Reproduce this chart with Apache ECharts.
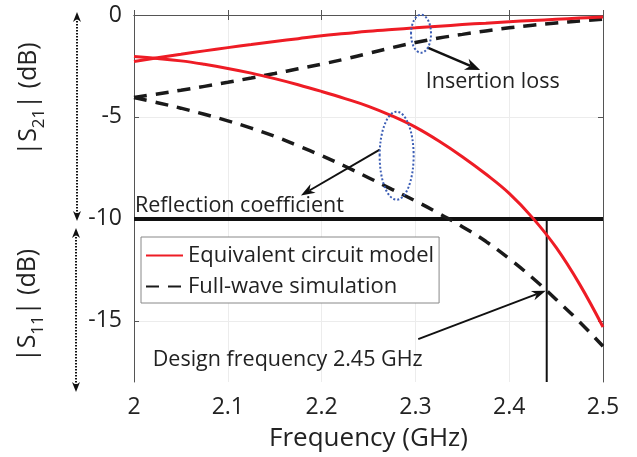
<!DOCTYPE html>
<html><head><meta charset="utf-8">
<script src="https://cdn.jsdelivr.net/npm/echarts@6/dist/echarts.min.js"></script>
<style>html,body{margin:0;padding:0;background:#fff}#c{width:637px;height:457px}</style>
</head><body><div id="c"></div>
<script>
// ---- data ----
const freq = [2.0, 2.025, 2.05, 2.075, 2.1, 2.125, 2.15, 2.175, 2.2, 2.225, 2.25,
              2.275, 2.3, 2.325, 2.35, 2.375, 2.4, 2.425, 2.45, 2.475, 2.5];
const s21Circuit  = [-2.28, -2.10, -1.93, -1.76, -1.60, -1.45, -1.30, -1.16, -1.02, -0.91, -0.80,
                     -0.71, -0.63, -0.55, -0.47, -0.40, -0.33, -0.27, -0.21, -0.15, -0.10];
const s21FullWave = [-4.05, -3.87, -3.69, -3.50, -3.30, -3.09, -2.87, -2.64, -2.41, -2.16, -1.88,
                     -1.60, -1.35, -1.13, -0.95, -0.78, -0.63, -0.50, -0.39, -0.29, -0.20];
const s11Circuit  = [-2.03, -2.13, -2.25, -2.42, -2.62, -2.85, -3.12, -3.42, -3.75, -4.10, -4.48,
                     -4.95, -5.50, -6.18, -6.95, -7.80, -8.75, -9.95, -11.40, -13.20, -15.30];
const s11FullWave = [-4.05, -4.30, -4.57, -4.87, -5.19, -5.55, -5.95, -6.42, -6.90, -7.42, -7.98,
                     -8.55, -9.12, -9.73, -10.38, -11.10, -11.95, -12.90, -13.95, -15.05, -16.25];
const xTicks = [2, 2.1, 2.2, 2.3, 2.4, 2.5];
const yTicks = [0, -5, -10, -15];
const refLevel = -10;
const designFreq = 2.44;
const yMin = -18, yMax = 0;
const legendNames = ['Equivalent circuit model', 'Full-wave simulation'];

const FONT = "'Open Sans', sans-serif";
const chart = echarts.init(document.getElementById('c'), null, {renderer: 'canvas'});
const pts = arr => freq.map((f, i) => [f, arr[i]]);
const RED = '#ee1c25', BLK = '#1a1a1a';

const xBase = {type: 'value', min: 2, max: 2.5};
const yBase = {type: 'value', min: yMin, max: yMax};

chart.setOption({
  animation: false,
  backgroundColor: '#fff',
  textStyle: {fontFamily: FONT},
  grid: {left: 134, top: 15, right: 34, bottom: 72, containLabel: false},
  xAxis: [
    Object.assign({}, xBase, {
      position: 'bottom',
      name: 'Frequency (GHz)', nameLocation: 'middle', nameGap: 44,
      nameTextStyle: {fontSize: 26, color: '#222', fontFamily: FONT},
      axisLine: {show: true, lineStyle: {color: '#555', width: 1}},
      axisTick: {show: true, inside: true, length: 5, lineStyle: {color: '#555'}, customValues: xTicks},
      axisLabel: {fontSize: 23, color: '#222', margin: 14, fontFamily: FONT, customValues: xTicks,
        formatter: v => String(Math.round(v * 10) / 10)},
      splitLine: {show: true, lineStyle: {color: '#ececec', width: 1}}
    }),
    Object.assign({}, xBase, {
      position: 'top',
      axisLine: {show: true, lineStyle: {color: '#555', width: 1}},
      axisTick: {show: true, inside: true, length: 5, lineStyle: {color: '#555'}, customValues: xTicks},
      axisLabel: {show: false}, splitLine: {show: false}
    })
  ],
  yAxis: [
    Object.assign({}, yBase, {
      position: 'left',
      axisLine: {show: true, lineStyle: {color: '#555', width: 1}},
      axisTick: {show: true, inside: true, length: 5, lineStyle: {color: '#555'}, customValues: yTicks},
      axisLabel: {fontSize: 23, color: '#222', margin: 12, fontFamily: FONT, customValues: yTicks},
      splitLine: {show: true, lineStyle: {color: '#ececec', width: 1}}
    }),
    Object.assign({}, yBase, {
      position: 'right',
      axisLine: {show: true, lineStyle: {color: '#555', width: 1}},
      axisTick: {show: true, inside: true, length: 5, lineStyle: {color: '#555'}, customValues: yTicks},
      axisLabel: {show: false}, splitLine: {show: false}
    })
  ],
  legend: {
    data: legendNames,
    orient: 'vertical', left: 141, top: 237,
    padding: [6, 5, 4, 4], itemGap: 6, itemWidth: 37, itemHeight: 14,
    backgroundColor: '#fff', borderColor: '#888', borderWidth: 1, borderRadius: 0,
    itemStyle: {opacity: 0, borderWidth: 0},
    textStyle: {fontSize: 22, color: '#222', fontFamily: FONT, lineHeight: 25},
    selectedMode: false
  },
  series: [
    {name: 'ref', type: 'line', data: [[2, refLevel], [2.5, refLevel]], symbol: 'none',
     lineStyle: {color: '#111', width: 4}, z: 1, silent: true},
    {name: 'design', type: 'line', data: [[designFreq, refLevel], [designFreq, yMin]], symbol: 'none',
     lineStyle: {color: '#111', width: 2}, z: 1, silent: true},
    {name: legendNames[0], type: 'line', data: pts(s21Circuit), smooth: 0.4, symbol: 'none',
     itemStyle: {color: RED}, lineStyle: {color: RED, width: 3}, z: 3},
    {name: legendNames[0], type: 'line', data: pts(s11Circuit), smooth: 0.4, symbol: 'none',
     itemStyle: {color: RED}, lineStyle: {color: RED, width: 3}, z: 3},
    {name: legendNames[1], type: 'line', data: pts(s21FullWave), smooth: 0.4, symbol: 'none',
     itemStyle: {color: BLK}, lineStyle: {color: BLK, width: 3.5, type: [13, 9]}, z: 2},
    {name: legendNames[1], type: 'line', data: pts(s11FullWave), smooth: 0.4, symbol: 'none',
     itemStyle: {color: BLK}, lineStyle: {color: BLK, width: 3.5, type: [13, 9]}, z: 2}
  ]
});

// ---- annotations (anchored in data coordinates) ----
const P = p => chart.convertToPixel({xAxisIndex: 0, yAxisIndex: 0}, p);
function arrow(a, b, head, half, w) {
  head = head || 13; half = half || 5; w = w || 2;
  const dx = b[0] - a[0], dy = b[1] - a[1], L = Math.hypot(dx, dy), ux = dx / L, uy = dy / L;
  const base = [b[0] - ux * head, b[1] - uy * head], nx = -uy, ny = ux;
  const notch = [b[0] - ux * head * 0.7, b[1] - uy * head * 0.7];
  return [
    {type: 'line', shape: {x1: a[0], y1: a[1], x2: notch[0], y2: notch[1]}, style: {stroke: '#111', lineWidth: w}, z: 20},
    {type: 'polygon', shape: {points: [b, [base[0] + nx * half, base[1] + ny * half], notch, [base[0] - nx * half, base[1] - ny * half]]},
     style: {fill: '#111'}, z: 20}
  ];
}
function ellipse(c, rx, ry) {
  return {type: 'ellipse', shape: {cx: c[0], cy: c[1], rx: rx, ry: ry},
    style: {fill: 'none', stroke: '#3b5db5', lineWidth: 2, lineDash: [2, 2]}, z: 21};
}
function label(p, txt, size) {
  return {type: 'text', x: p[0], y: p[1], z: 22,
    style: {text: txt, font: size + 'px ' + FONT, fill: '#222', textAlign: 'left', textVerticalAlign: 'middle'}};
}
function dottedDouble(x, y1, y2) {
  return [
    {type: 'line', shape: {x1: x, y1: y1 + 6, x2: x, y2: y2 - 6}, style: {stroke: '#111', lineWidth: 2, lineDash: [1.5, 1.5]}, z: 20},
    {type: 'polygon', shape: {points: [[x, y1], [x - 4, y1 + 10], [x, y1 + 7], [x + 4, y1 + 10]]}, style: {fill: '#111'}, z: 20},
    {type: 'polygon', shape: {points: [[x, y2], [x - 4, y2 - 10], [x, y2 - 7], [x + 4, y2 - 10]]}, style: {fill: '#111'}, z: 20}
  ];
}
function yName(cx, cy, sub) {
  return {type: 'text', x: cx, y: cy, rotation: Math.PI / 2, z: 22,
    style: {
      text: '{n||S}{s|' + sub + '}{n|| (dB)}',
      textAlign: 'center', textVerticalAlign: 'middle', fill: '#222',
      rich: {
        n: {fontSize: 25, fontFamily: FONT, lineHeight: 32, verticalAlign: 'top', fill: '#222'},
        s: {fontSize: 17, fontFamily: FONT, lineHeight: 18, verticalAlign: 'bottom', fill: '#222'}
      }
    }};
}

const g = [];
g.push(ellipse(P([2.306, -0.92]), 10, 19));
g.push(...arrow(P([2.313, -1.6]), P([2.369, -2.7]), 15, 6, 2.5));
g.push(label(P([2.311, -3.3]), 'Insertion loss', 21.5));
g.push(ellipse(P([2.280, -6.9]), 17, 44));
g.push(...arrow(P([2.262, -6.6]), P([2.178, -8.85]), 14, 5, 2));
g.push(label(P([2.001, -9.35]), 'Reflection coefficient', 21.5));
g.push(...arrow(P([2.303, -15.9]), P([2.439, -13.52]), 14, 5, 2));
g.push(label(P([2.02, -16.9]), 'Design frequency 2.45 GHz', 21.5));
const yTop = P([2, 0])[1], yRef = P([2, refLevel])[1], yBot = P([2, yMin])[1];
g.push(...dottedDouble(77, yTop - 3, yRef + 2));
g.push(...dottedDouble(76, yRef + 9, yBot + 10));
g.push(yName(32, (yTop + yRef) / 2 - 18, '21'));
g.push(yName(31, (yRef + yBot) / 2 + 5, '11'));
chart.setOption({graphic: g});
</script>
</body></html>
